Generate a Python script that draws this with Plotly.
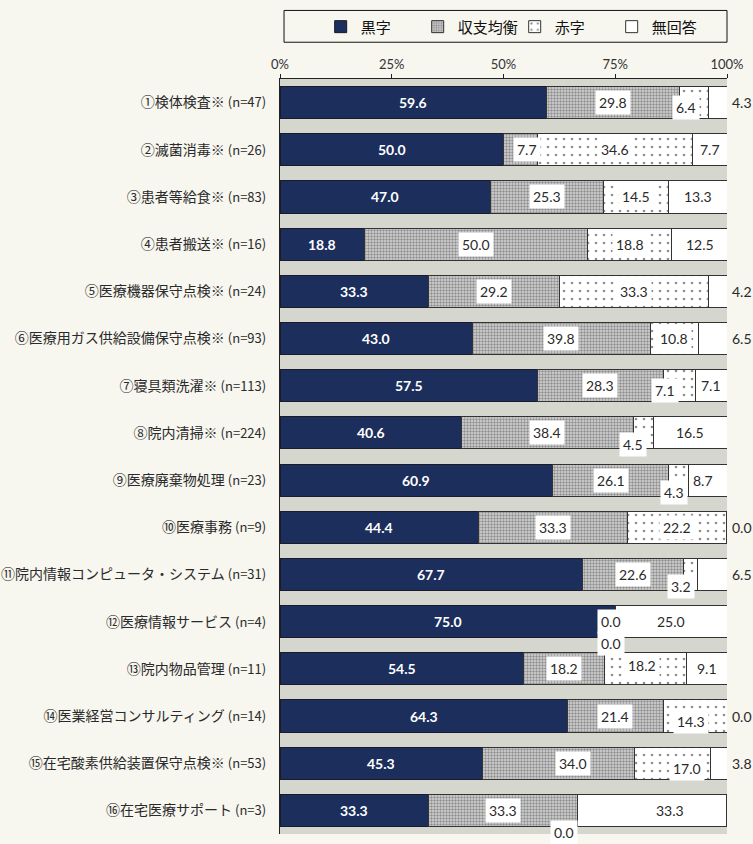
import plotly.graph_objects as go

# ---- data -------------------------------------------------------------
categories = [
    "①検体検査※", "②滅菌消毒※", "③患者等給食※", "④患者搬送※",
    "⑤医療機器保守点検※", "⑥医療用ガス供給設備保守点検※", "⑦寝具類洗濯※",
    "⑧院内清掃※", "⑨医療廃棄物処理", "⑩医療事務",
    "⑪院内情報コンピュータ・システム", "⑫医療情報サービス", "⑬院内物品管理",
    "⑭医業経営コンサルティング", "⑮在宅酸素供給装置保守点検※", "⑯在宅医療サポート",
]
sample_sizes = [47, 26, 83, 16, 24, 93, 113, 224, 23, 9, 31, 4, 11, 14, 53, 3]

series_names = ["黒字", "収支均衡", "赤字", "無回答"]
surplus   = [59.6, 50.0, 47.0, 18.8, 33.3, 43.0, 57.5, 40.6, 60.9, 44.4, 67.7, 75.0, 54.5, 64.3, 45.3, 33.3]
balanced  = [29.8,  7.7, 25.3, 50.0, 29.2, 39.8, 28.3, 38.4, 26.1, 33.3, 22.6,  0.0, 18.2, 21.4, 34.0, 33.3]
deficit   = [ 6.4, 34.6, 14.5, 18.8, 33.3, 10.8,  7.1,  4.5,  4.3, 22.2,  3.2,  0.0, 18.2, 14.3, 17.0,  0.0]
no_answer = [ 4.3,  7.7, 13.3, 12.5,  4.2,  6.5,  7.1, 16.5,  8.7,  0.0,  6.5, 25.0,  9.1,  0.0,  3.8, 33.3]

tick_values = [0, 25, 50, 75, 100]
tick_labels = ["0%", "25%", "50%", "75%", "100%"]

# ---- styling ----------------------------------------------------------
NAVY = "#1c2e5c"
TEXT = "#2a2a2a"
JP_FONT = "Noto Sans CJK JP"
NUM_FONT = "Lato"

series_values = [surplus, balanced, deficit, no_answer]
markers = [
    dict(color=NAVY, line=dict(color="#1a1a2a", width=1)),
    dict(color="#d6d6d6", line=dict(color="#333", width=1),
         pattern=dict(shape=".", fgcolor="#4a4a4a", bgcolor="#d6d6d6",
                      size=3, solidity=0.5)),
    dict(color="white", line=dict(color="#333", width=1),
         pattern=dict(shape=".", fgcolor="#222", bgcolor="white",
                      size=8, solidity=0.09)),
    dict(color="white", line=dict(color="#333", width=1)),
]

# label placement tweaks: (row, series) -> (dx, dy) in px, or "outside"
label_nudges = {
    (0, 2): (-8, 5), (0, 3): "outside",
    (1, 1): (6, 0),
    (4, 3): "outside",
    (5, 3): "outside",
    (6, 2): (-14, 5),
    (7, 2): (-10, 12),
    (8, 2): (-5, 12), (8, 3): (-5, 0),
    (9, 3): "outside",
    (10, 2): (-10, 12), (10, 3): "outside",
    (11, 1): (-4, 0), (11, 2): (-4, 22),
    (12, 2): (-4, -3),
    (13, 2): (-4, 5), (13, 3): "outside",
    (14, 1): (15, 0), (14, 2): (15, 5), (14, 3): "outside",
    (15, 2): (-14, 22), (15, 3): (18, 0),
}

fig = go.Figure()
for name, vals, mk in zip(series_names, series_values, markers):
    fig.add_trace(go.Bar(
        name=name, x=vals, y=categories, orientation="h",
        marker=mk, hoverinfo="x+y+name",
    ))

# value labels
annotations = []
for i, cat in enumerate(categories):
    left = 0.0
    for s, vals in enumerate(series_values):
        v = vals[i]
        centre = left + v / 2
        left += v
        nudge = label_nudges.get((i, s), (0, 0))
        if s == 0:
            annotations.append(dict(
                x=centre, y=cat, xref="x", yref="y", text=f"{v:.1f}",
                showarrow=False,
                font=dict(family=NUM_FONT, size=14, color="white", weight="bold"),
            ))
            continue
        if nudge == "outside":
            annotations.append(dict(
                x=100, y=cat, xref="x", yref="y", text=f"{v:.1f}",
                showarrow=False, xanchor="left", xshift=3,
                font=dict(family=NUM_FONT, size=14, color=TEXT),
            ))
            continue
        dx, dy = nudge
        annotations.append(dict(
            x=centre, y=cat, xref="x", yref="y", text=f"{v:.1f}",
            showarrow=False, xshift=dx, yshift=-dy,
            bgcolor="white", borderpad=3,
            font=dict(family=NUM_FONT, size=14, color=TEXT),
        ))

tick_text = [
    f"{c} <span style='font-size:13px'>(n={n})</span>"
    for c, n in zip(categories, sample_sizes)
]

fig.update_layout(
    width=753, height=844,
    margin=dict(l=280, r=26, t=74, b=10),
    paper_bgcolor="#f7f6ef",
    plot_bgcolor="#d5d6ce",
    barmode="stack",
    bargap=0.32,
    font=dict(family=JP_FONT, color=TEXT),
    showlegend=True,
    legend=dict(
        orientation="h", x=0.525, xanchor="center", y=1.069, yanchor="middle",
        font=dict(family=JP_FONT, size=15, color="#111"),
        bgcolor="rgba(0,0,0,0)", entrywidth=52, itemwidth=30,
        traceorder="normal",
    ),
    xaxis=dict(
        side="top", range=[0, 100], tickvals=tick_values, ticktext=tick_labels,
        showgrid=False, zeroline=False, showline=True, linecolor="#222",
        linewidth=1, ticks="outside", ticklen=4, tickcolor="#222",
        tickfont=dict(family=NUM_FONT, size=13, color="#333"),
        fixedrange=True, automargin=False,
    ),
    yaxis=dict(
        categoryorder="array", categoryarray=categories,
        tickvals=categories, ticktext=tick_text,
        autorange="reversed", showgrid=False, zeroline=False,
        showline=True, linecolor="#222", linewidth=1, ticks="",
        ticklabelstandoff=10,
        tickfont=dict(family=JP_FONT, size=14, color=TEXT),
        fixedrange=True, automargin=False,
    ),
    annotations=annotations,
    shapes=[dict(
        type="rect", xref="paper", yref="paper",
        x0=0.009, x1=1.0, y0=1.0487, y1=1.0908,
        line=dict(color="#111", width=1), fillcolor="rgba(0,0,0,0)",
    )],
)

fig.write_html("out.html")
